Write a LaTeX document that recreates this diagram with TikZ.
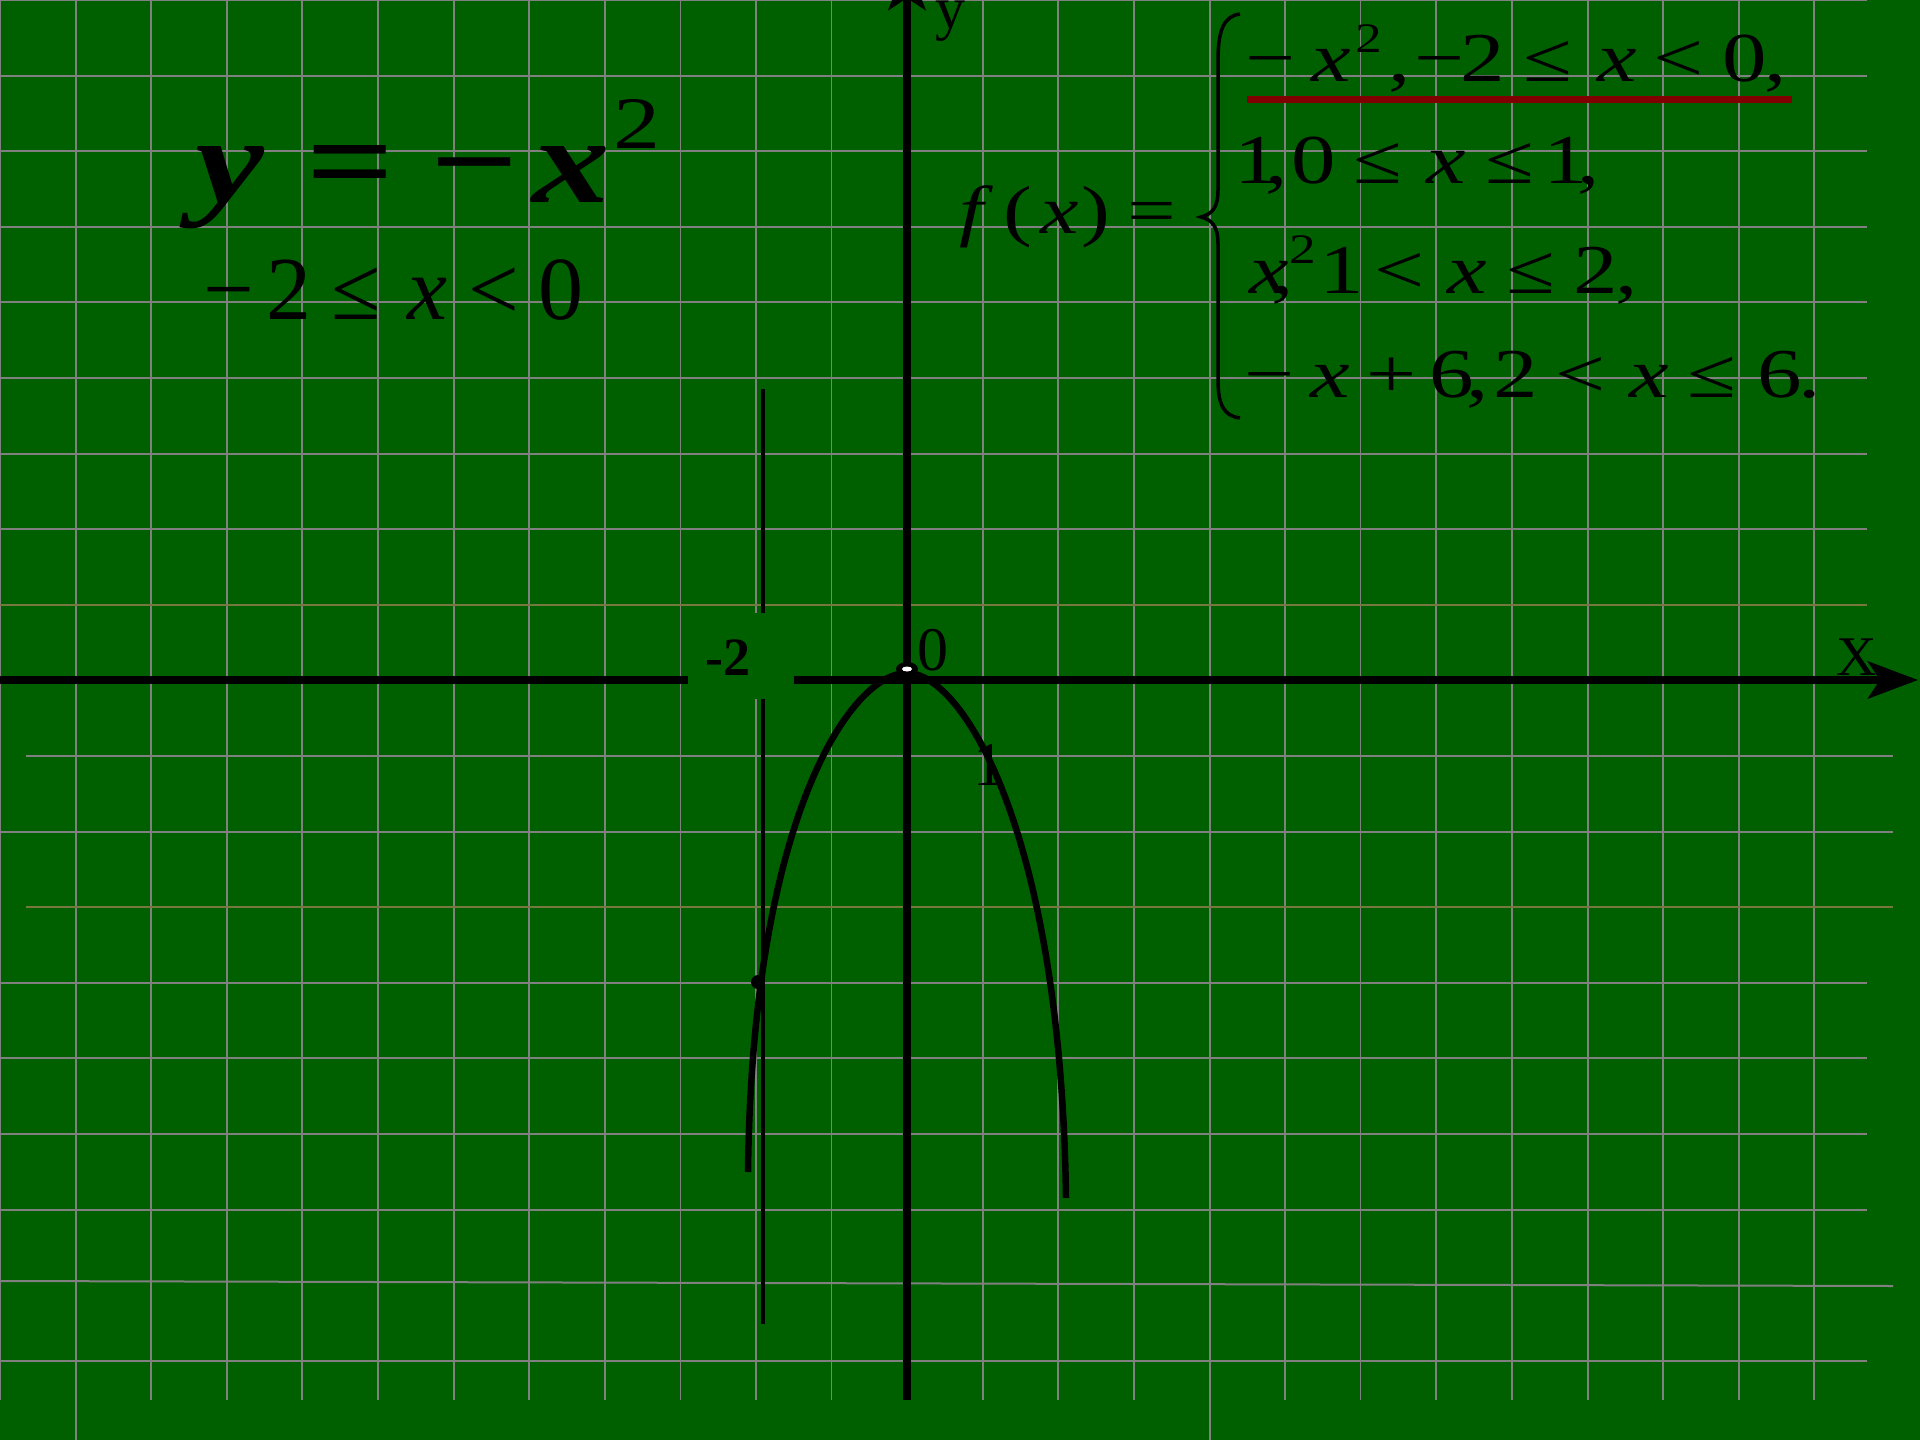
\documentclass[tikz,border=0pt]{standalone}
\usepackage{fontspec}
\setmainfont{Liberation Serif}
\usepackage{graphicx}
\usetikzlibrary{arrows.meta}
\definecolor{bg}{RGB}{0,96,0}
\definecolor{gridc}{RGB}{128,128,128}
\definecolor{olivec}{RGB}{118,120,62}
\definecolor{redl}{RGB}{128,0,0}
\newcommand{\gp}[2]{\rlap{\hspace*{#1pt}#2}}
\newcommand{\st}[1]{\scalebox{1.27}[1]{#1}}
\newcommand{\fs}[1]{\fontsize{#1}{#1}\selectfont}
\begin{document}
\begin{tikzpicture}[x=1pt,y=-1pt,
  gline/.style={draw=gridc, line width=2pt},
  gthin/.style={draw=gridc, line width=1.2pt},
  goline/.style={draw=olivec, line width=2pt},
  axisline/.style={draw=black, line width=7.5pt},
  arr/.style={-{Stealth[length=50pt,width=37pt,inset=12pt]}},
  txt/.style={inner sep=0pt, outer sep=0pt, text=black}]
\useasboundingbox (0,0) rectangle (1920,1440);
\fill[bg] (0,0) rectangle (1920,1440);
\begin{scope}
\clip (0,0) rectangle (1920,1440);
% vertical grid
\foreach \k in {0,...,8,12,13,14,15,16,17,19,20,21,22,23,24}
  \draw[gline] ({\k*75.6},0) -- ({\k*75.6},1400);
\foreach \k in {9,10,11,18}
  \draw[gthin] ({\k*75.6},0) -- ({\k*75.6},1400);
\draw[gline] (75.6,1400) -- (75.6,1440);
\draw[gline] (1209.6,1400) -- (1209.6,1440);
% horizontal grid
\foreach \k in {0,...,7,13,14,15,16,18}
  \draw[gline] (0,{\k*75.6}) -- (1867,{\k*75.6});
\draw[goline] (0,604.8) -- (1867,604.8);
\draw[gline] (26,756) -- (1893,756);
\draw[gline] (0,831.6) -- (1893,831.6);
\draw[goline] (26,907.2) -- (1893,907.2);
\draw[gline] (0,1281) -- (1893,1286);
% axes
\coordinate (xs) at (0,680);
\coordinate (xg1) at (688,680);
\coordinate (xg2) at (794,680);
\coordinate (xe) at (1918,680);
\coordinate (ys) at (907,1400);
\coordinate (ye) at (907,-40);
\draw[axisline] (xs) -- (xg1);
\draw[axisline, arr] (xg2) -- (xe);
\draw[axisline, arr] (ys) -- (ye);
% thin vertical line x=-2
\coordinate (t1) at (763,389);
\coordinate (t2) at (763,613);
\coordinate (t3) at (763,699);
\coordinate (t4) at (763,1324);
\draw[black, line width=3.5pt] (t1) -- (t2);
\draw[black, line width=3.5pt] (t3) -- (t4);
\end{scope}
% gap box around -2
\fill[bg] (688,613) rectangle (794,699);
% curve
\coordinate (cl) at (748,1172);
\coordinate (cv) at (907,673);
\coordinate (cr) at (1066,1198);
\draw[black, line width=6.5pt] (cl) .. controls (752,820) and (850,673) .. (cv)
  .. controls (962,673) and (1061,830) .. (cr);
\fill[black] (907,669) ellipse [x radius=11pt, y radius=7pt];
\fill[white] (907,669) ellipse [x radius=5pt, y radius=2.5pt];
\fill[black] (758,982) circle [radius=7pt];
% axis labels
\node[txt, anchor=base] (lm2) at (728,675) {\fs{54}\bfseries -2};
\node[txt, anchor=base] (l0) at (933,670) {\fs{62}0};
\node[txt, anchor=base] (l1n) at (989,785) {\fs{62}1};
\node[txt, anchor=base] (lX) at (1857,675) {\fs{56}X};
\node[txt, anchor=base] (ly) at (950,28) {\fs{60}y};
% main formula
\node[txt, anchor=base west] (mf) at (184,202) {\fs{122}\bfseries
  \gp{11}{\st{\itshape y}}\gp{122}{\st{=}}\gp{246}{\st{−}}\gp{348}{\st{\itshape x}}%
  \gp{429}{\raisebox{54pt}{\fs{74}\mdseries\st{2}}}};
\node[txt, anchor=base west] (dom) at (203,319) {\fs{90}%
  \gp{0}{−}\gp{63}{2}\gp{128}{≤}\gp{204}{\itshape x}\gp{265}{<}\gp{335}{0}};
% f(x) =
\node[txt, anchor=base west] (fx) at (945,233) {\fs{68}%
  \gp{14}{\st{\itshape f}}\gp{58}{\st{(}}\gp{95}{\st{\itshape x}}\gp{136}{\st{)}}\gp{182}{\st{=}}};
% brace
\draw[black, line width=3.5pt] (1240,14) .. controls (1224,16) and (1218,30) .. (1218,60)
  -- (1218,190) .. controls (1218,208) and (1212,214) .. (1201,217)
  .. controls (1212,220) and (1218,226) .. (1218,244)
  -- (1218,380) .. controls (1218,405) and (1224,416) .. (1240,418);
% piecewise lines
\node[txt, anchor=base west] (pl1) at (1245,81) {\fs{70}%
  \gp{0}{\st{−}}\gp{66}{\st{\itshape x}}\gp{110}{\raisebox{29pt}{\fs{42}\st{2}}}%
  \gp{143}{\st{,}}\gp{169}{\st{−}}\gp{215}{\st{2}}\gp{278}{\st{≤}}\gp{352}{\st{\itshape x}}%
  \gp{408}{\st{<}}\gp{477}{\st{0}}\gp{519}{\st{,}}};
\node[txt, anchor=base west] (pl2) at (1244,183) {\fs{70}%
  \gp{-10}{\st{1}}\gp{21}{\st{,}}\gp{47}{\st{0}}\gp{109}{\st{≤}}\gp{182}{\st{\itshape x}}%
  \gp{241}{\st{≤}}\gp{299}{\st{1}}\gp{333}{\st{,}}};
\node[txt, anchor=base west] (pl3) at (1246,293) {\fs{70}%
  \gp{3}{\st{\itshape x}}\gp{25}{\st{,}}\gp{43}{\raisebox{30pt}{\fs{42}\st{2}}}\gp{73}{\st{1}}%
  \gp{128}{\st{<}}\gp{201}{\st{\itshape x}}\gp{260}{\st{≤}}\gp{327}{\st{2}}\gp{369}{\st{,}}};
\node[txt, anchor=base west] (pl4) at (1244,397) {\fs{70}%
  \gp{0}{\st{−}}\gp{66}{\st{\itshape x}}\gp{122}{\st{+}}\gp{185}{\st{6}}\gp{222}{\st{,}}%
  \gp{249}{\st{2}}\gp{311}{\st{<}}\gp{385}{\st{\itshape x}}\gp{443}{\st{≤}}\gp{513}{\st{6}}\gp{554}{\st{.}}};
% red underline
\coordinate (r1) at (1247,99.5);
\coordinate (r2) at (1792,99.5);
\draw[redl, line width=7pt] (r1) -- (r2);
\end{tikzpicture}
\end{document}
